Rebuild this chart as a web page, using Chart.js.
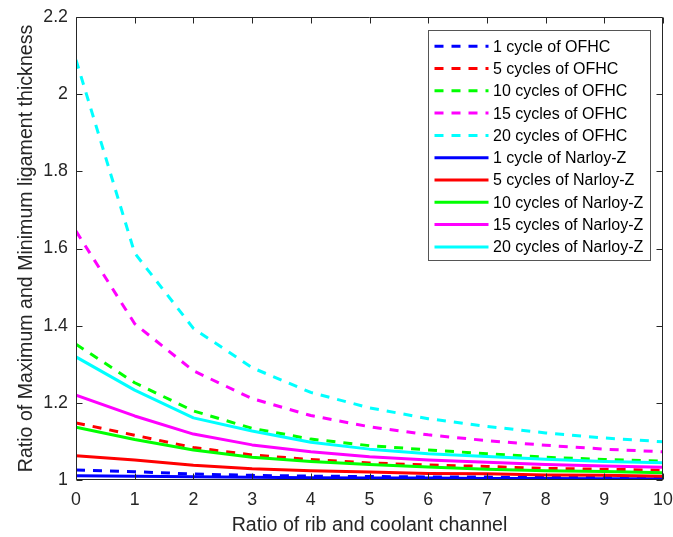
<!DOCTYPE html>
<html>
<head>
<meta charset="utf-8">
<script src="https://cdn.jsdelivr.net/npm/chart.js@4/dist/chart.umd.min.js"></script>
<style>
  html, body { margin: 0; padding: 0; background: #ffffff; }
  canvas { display: block; }
</style>
</head>
<body>
<canvas id="chart" width="673" height="537"></canvas>
<script>
// Ratio of rib to coolant channel (x axis)
const ratios = [0, 1, 2, 3, 4, 5, 6, 7, 8, 9, 10];

// Max/min ligament thickness ratio, OFHC copper
const ofhc1  = [1.026, 1.0215, 1.0155, 1.012, 1.010, 1.009, 1.008, 1.0075, 1.007, 1.0065, 1.006];
const ofhc5  = [1.148, 1.116, 1.084, 1.065, 1.053, 1.044, 1.039, 1.035, 1.030, 1.028, 1.025];
const ofhc10 = [1.352, 1.252, 1.179, 1.134, 1.106, 1.089, 1.078, 1.068, 1.059, 1.053, 1.049];
const ofhc15 = [1.645, 1.405, 1.283, 1.211, 1.167, 1.138, 1.117, 1.102, 1.090, 1.080, 1.073];
const ofhc20 = [2.089, 1.588, 1.393, 1.291, 1.227, 1.187, 1.159, 1.139, 1.122, 1.109, 1.099];

// Max/min ligament thickness ratio, Narloy-Z
const narloy1  = [1.011, 1.010, 1.0085, 1.007, 1.006, 1.005, 1.005, 1.004, 1.004, 1.0035, 1.0035];
const narloy5  = [1.063, 1.052, 1.038, 1.029, 1.024, 1.021, 1.017, 1.016, 1.013, 1.012, 1.010];
const narloy10 = [1.137, 1.105, 1.078, 1.059, 1.048, 1.040, 1.034, 1.028, 1.024, 1.022, 1.019];
const narloy15 = [1.220, 1.166, 1.119, 1.091, 1.073, 1.060, 1.052, 1.046, 1.040, 1.036, 1.033];
const narloy20 = [1.319, 1.233, 1.161, 1.127, 1.098, 1.080, 1.068, 1.061, 1.054, 1.048, 1.045];

const seriesValues = [ofhc1, ofhc5, ofhc10, ofhc15, ofhc20, narloy1, narloy5, narloy10, narloy15, narloy20];
const seriesLabels = [
  '1 cycle of OFHC', '5 cycles of OFHC', '10 cycles of OFHC', '15 cycles of OFHC', '20 cycles of OFHC',
  '1 cycle of Narloy-Z', '5 cycles of Narloy-Z', '10 cycles of Narloy-Z', '15 cycles of Narloy-Z', '20 cycles of Narloy-Z'
];
const seriesColors = ['#0000ff', '#ff0000', '#00ff00', '#ff00ff', '#00ffff',
                      '#0000ff', '#ff0000', '#00ff00', '#ff00ff', '#00ffff'];
const seriesDashed = [true, true, true, true, true, false, false, false, false, false];

// Axis ticks
const xTicks = [0, 1, 2, 3, 4, 5, 6, 7, 8, 9, 10];
const xTickLabels = ['0', '1', '2', '3', '4', '5', '6', '7', '8', '9', '10'];
const yTicks = [1, 1.2, 1.4, 1.6, 1.8, 2, 2.2];
const yTickLabels = ['1', '1.2', '1.4', '1.6', '1.8', '2', '2.2'];

const AXIS_COLOR = '#262626';
const FONT = '"Liberation Sans", Arial, sans-serif';
const DASH = [9, 8];

const datasets = seriesValues.map((vals, i) => ({
  label: seriesLabels[i],
  data: ratios.map((r, k) => ({ x: r, y: vals[k] })),
  borderColor: seriesColors[i],
  backgroundColor: seriesColors[i],
  borderWidth: 3,
  borderDash: seriesDashed[i] ? DASH : [],
  borderJoinStyle: 'round',
  borderCapStyle: 'butt',
  pointRadius: 0,
  tension: 0,
  fill: false,
  order: seriesValues.length - i
}));

// Boxed axes with inward tick marks on all four sides
const boxAxes = {
  id: 'boxAxes',
  afterDatasetsDraw(chart) {
    const { ctx, chartArea: a, scales: { x, y } } = chart;
    const L = Math.round(a.left) + 0.5, R = Math.round(a.right) - 0.5;
    const T = Math.round(a.top) + 0.5, B = Math.round(a.bottom) - 0.5;
    const tick = 6;
    ctx.save();
    ctx.strokeStyle = AXIS_COLOR;
    ctx.lineWidth = 1;
    ctx.setLineDash([]);
    ctx.beginPath();
    ctx.rect(L, T, R - L, B - T);
    x.ticks.forEach(t => {
      const px = Math.round(x.getPixelForValue(t.value)) + 0.5;
      ctx.moveTo(px, B); ctx.lineTo(px, B - tick);
      ctx.moveTo(px, T); ctx.lineTo(px, T + tick);
    });
    y.ticks.forEach(t => {
      const py = Math.round(y.getPixelForValue(t.value)) + 0.5;
      ctx.moveTo(L, py); ctx.lineTo(L + tick, py);
      ctx.moveTo(R, py); ctx.lineTo(R - tick, py);
    });
    ctx.stroke();
    ctx.restore();
  }
};

// Boxed legend in the upper-right corner of the plot area
const boxLegend = {
  id: 'boxLegend',
  afterDraw(chart) {
    const { ctx, chartArea: a } = chart;
    const w = 222, h = 230;
    const left = Math.round(a.right - 13 - w) + 0.5;
    const top = Math.round(a.top + 13) + 0.5;
    const rowH = 22.3, firstRow = 15.7;
    ctx.save();
    ctx.fillStyle = '#ffffff';
    ctx.fillRect(left, top, w, h);
    ctx.strokeStyle = '#555555';
    ctx.lineWidth = 1;
    ctx.setLineDash([]);
    ctx.strokeRect(left, top, w, h);
    ctx.font = '16px ' + FONT;
    ctx.textBaseline = 'middle';
    ctx.textAlign = 'left';
    chart.data.datasets.forEach((ds, i) => {
      const cy = top + firstRow + i * rowH;
      ctx.beginPath();
      ctx.strokeStyle = ds.borderColor;
      ctx.lineWidth = 3;
      ctx.lineCap = 'butt';
      ctx.setLineDash(ds.borderDash);
      ctx.moveTo(left + 6, cy);
      ctx.lineTo(left + 60, cy);
      ctx.stroke();
      ctx.setLineDash([]);
      ctx.fillStyle = '#000000';
      ctx.fillText(ds.label, left + 64.5, cy + 1);
    });
    ctx.restore();
  }
};

new Chart(document.getElementById('chart'), {
  type: 'line',
  data: { datasets },
  options: {
    responsive: false,
    animation: false,
    devicePixelRatio: 1,
    layout: { padding: { top: 17, right: 10, bottom: 0, left: 0 } },
    plugins: { legend: { display: false }, tooltip: { enabled: false } },
    scales: {
      x: {
        type: 'linear',
        min: 0, max: 10,
        afterBuildTicks: s => { s.ticks = xTicks.map(v => ({ value: v })); },
        afterFit: s => { s.height = 57; s.paddingLeft = 0; s.paddingRight = 0; },
        grid: { display: false, drawTicks: false },
        border: { display: false },
        ticks: {
          autoSkip: false, maxRotation: 0, padding: 9,
          color: AXIS_COLOR,
          font: { family: FONT, size: 17.8 },
          callback: (v, i) => xTickLabels[i]
        },
        title: {
          display: true,
          text: 'Ratio of rib and coolant channel',
          color: AXIS_COLOR,
          font: { family: FONT, size: 19.6 },
          padding: { top: 0, bottom: 0 }
        }
      },
      y: {
        type: 'linear',
        min: 1, max: 2.2,
        afterBuildTicks: s => { s.ticks = yTicks.map(v => ({ value: v })); },
        afterFit: s => { s.width = 76; s.paddingTop = 0; s.paddingBottom = 0; },
        grid: { display: false, drawTicks: false },
        border: { display: false },
        ticks: {
          autoSkip: false, padding: 8,
          color: AXIS_COLOR,
          font: { family: FONT, size: 17.8 },
          callback: (v, i) => yTickLabels[i]
        },
        title: {
          display: true,
          text: 'Ratio of Maximum and Minimum ligament thickness',
          color: AXIS_COLOR,
          font: { family: FONT, size: 19.6 },
          padding: { top: 14.4, bottom: 0 }
        }
      }
    }
  },
  plugins: [boxAxes, boxLegend]
});
</script>
</body>
</html>
